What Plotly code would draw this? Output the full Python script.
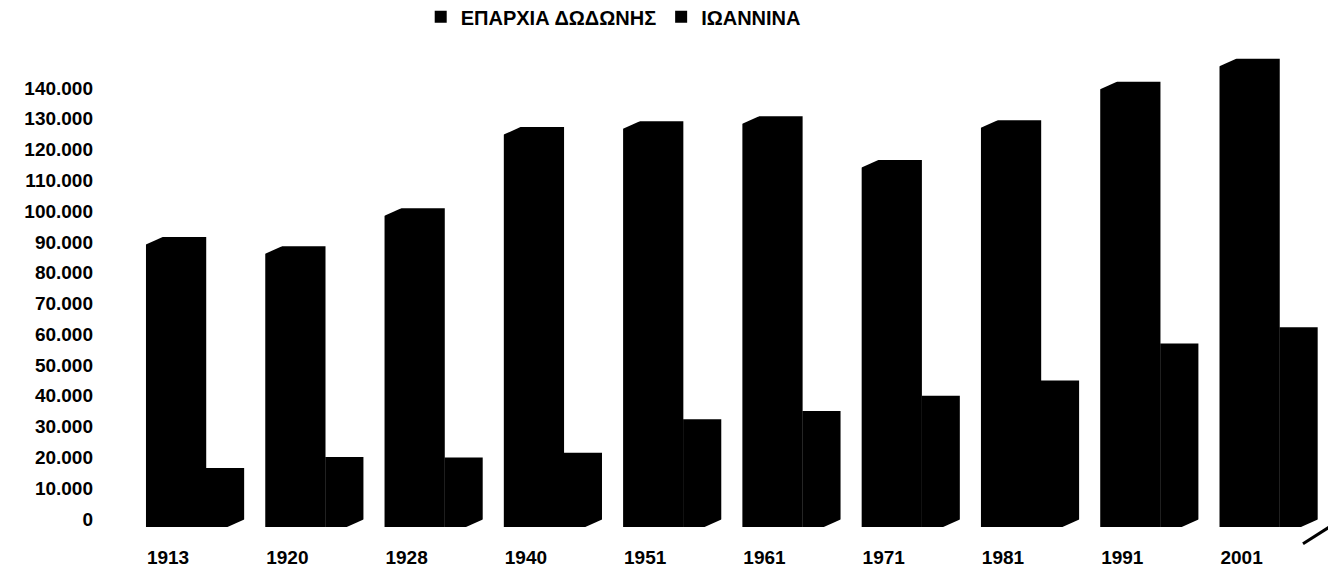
import plotly.graph_objects as go

years = ["1913", "1920", "1928", "1940", "1951", "1961", "1971", "1981", "1991", "2001"]
dodoni = [91600, 88600, 100900, 127300, 129200, 130800, 116600, 129500, 142000, 149500]
ioannina = [16600, 20100, 20000, 21500, 32400, 35100, 40000, 45000, 57000, 62300]
name_dodoni = "ΕΠΑΡΧΙΑ ΔΩΔΩΝΗΣ"
name_ioannina = "ΙΩΑΝΝΙΝΑ"
y_ticks = list(range(0, 150000, 10000))

FONT = "Liberation Sans, Arial, sans-serif"
FLOOR = -2600  # 3D floor depth: bars drop slightly below the zero label
D_OFF, D_W = -0.185, 0.505
I_OFF, I_W = 0.318, 0.32
BEV_X, BEV_Y = 0.14, 2600  # 3D bevel size

fig = go.Figure()
fig.add_trace(go.Bar(
    x=years, y=[v - FLOOR for v in dodoni], base=FLOOR, name=name_dodoni,
    customdata=dodoni, hovertemplate="%{x}: %{customdata:,d}<extra></extra>",
    marker=dict(color="black", line=dict(width=0)),
    offset=D_OFF, width=D_W,
))
fig.add_trace(go.Bar(
    x=years, y=[v - FLOOR for v in ioannina], base=FLOOR, name=name_ioannina,
    customdata=ioannina, hovertemplate="%{x}: %{customdata:,d}<extra></extra>",
    marker=dict(color="black", line=dict(width=0)),
    offset=I_OFF, width=I_W,
))

shapes = []
for i, v in enumerate(dodoni):
    xl = i + D_OFF
    shapes.append(dict(
        type="path", xref="x", yref="y",
        path=f"M {xl - 0.01},{v + 400} L {xl + BEV_X},{v + 400} L {xl + BEV_X},{v} L {xl - 0.01},{v - BEV_Y} Z",
        fillcolor="white", line=dict(width=0), layer="above",
    ))
for i, v in enumerate(ioannina):
    xr = i + I_OFF + I_W
    shapes.append(dict(
        type="path", xref="x", yref="y",
        path=f"M {xr + 0.01},{FLOOR - 400} L {xr - BEV_X},{FLOOR - 400} L {xr - BEV_X},{FLOOR} L {xr + 0.01},{FLOOR + BEV_Y} Z",
        fillcolor="white", line=dict(width=0), layer="above",
    ))
shapes.append(dict(
    type="line", xref="paper", yref="paper",
    x0=0.9726, y0=-0.035, x1=1.006, y1=0.02,
    line=dict(color="black", width=3),
))

fig.update_layout(
    width=1336, height=585,
    margin=dict(l=88, r=7, t=43, b=66),
    paper_bgcolor="white", plot_bgcolor="white",
    separators=",.",
    barmode="overlay",
    showlegend=True,
    legend=dict(
        orientation="h",
        xref="container", yref="container",
        x=0.453, y=0.985, xanchor="center", yanchor="middle",
        font=dict(family=FONT, size=20, color="black", weight="bold"),
        itemwidth=30, tracegroupgap=0,
        bgcolor="rgba(0,0,0,0)",
    ),
    font=dict(family=FONT, color="black"),
    xaxis=dict(
        type="category",
        range=[-0.604, 9.8],
        automargin=False,
        showgrid=False, zeroline=False, showline=False,
        ticks="",
        tickfont=dict(family=FONT, size=19, color="black", weight="bold"),
        ticklabelstandoff=17,
    ),
    yaxis=dict(
        range=[FLOOR, 152000],
        automargin=False,
        tickvals=y_ticks,
        tickformat=",d",
        showgrid=False, zeroline=False, showline=False,
        ticks="",
        tickfont=dict(family=FONT, size=19, color="black", weight="bold"),
        ticklabelstandoff=2,
    ),
    shapes=shapes,
)

fig.write_html("out.html")
